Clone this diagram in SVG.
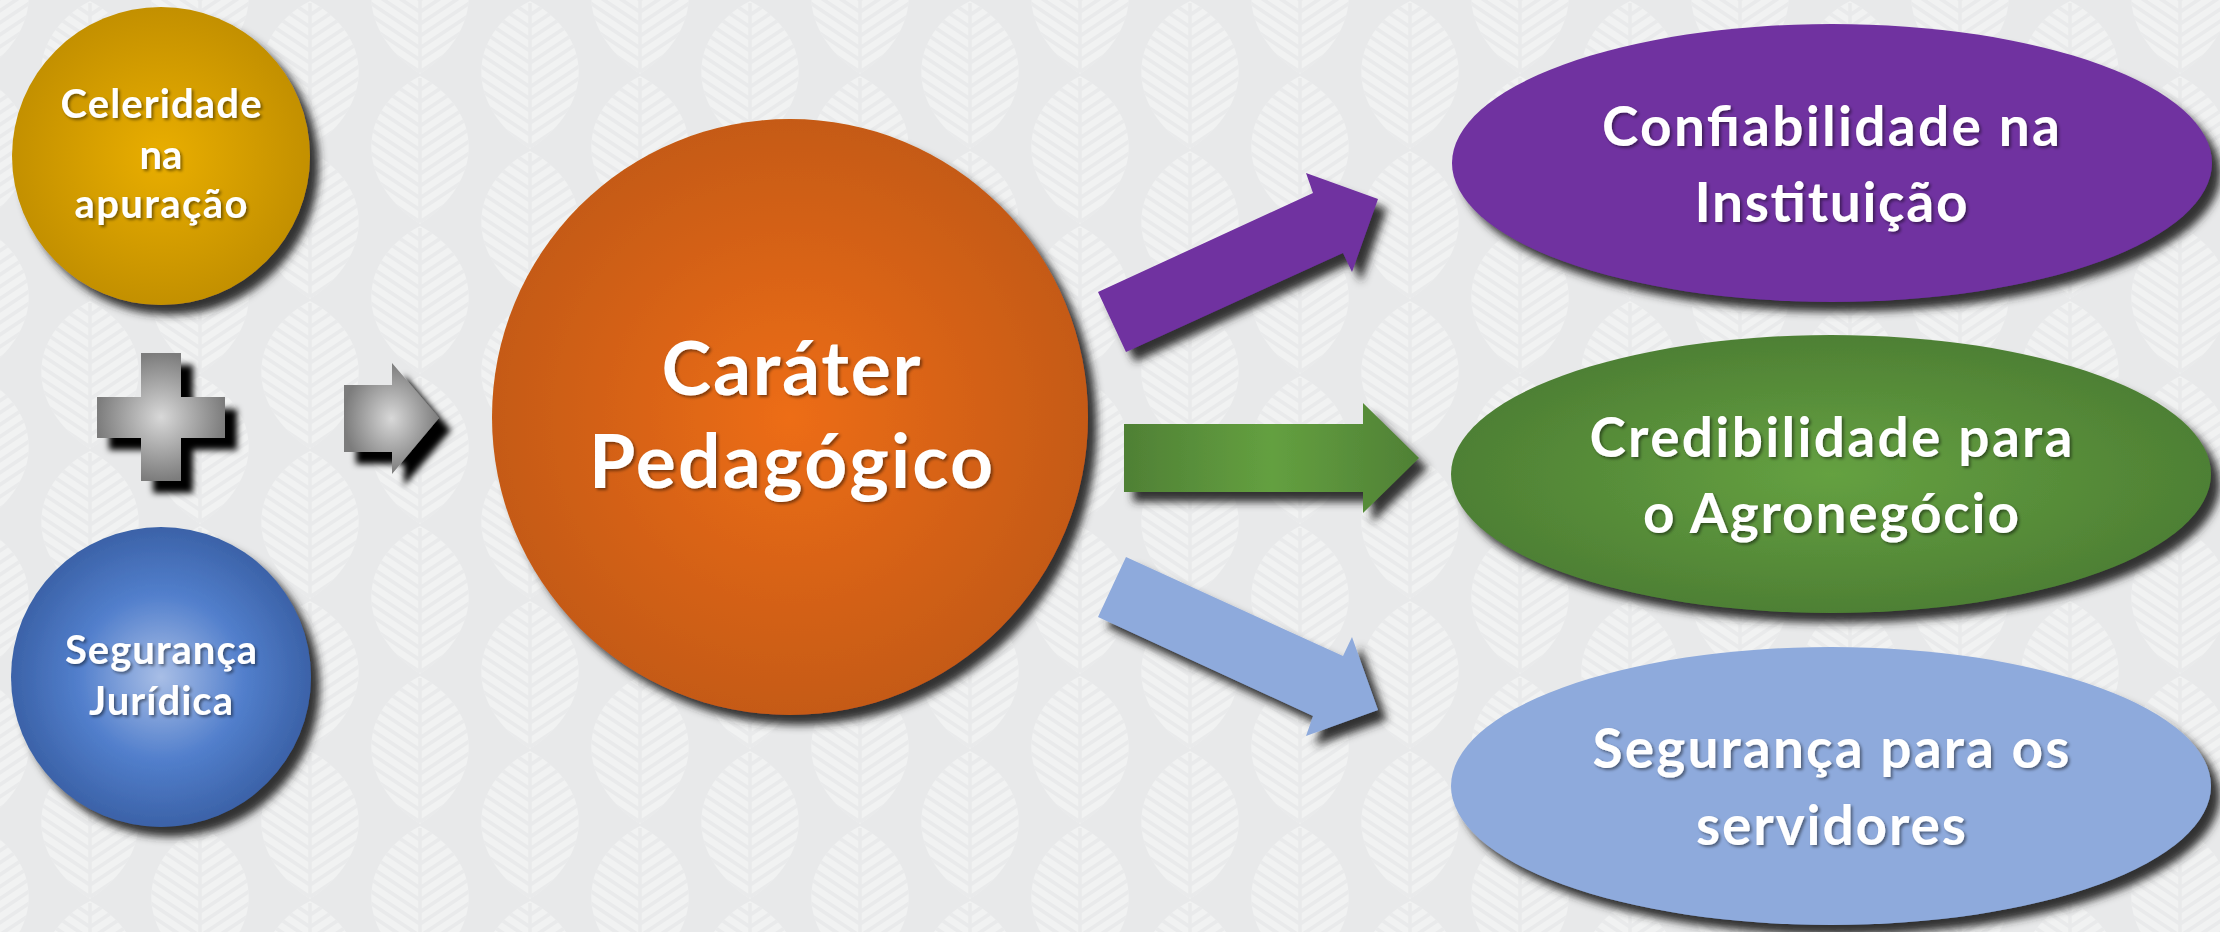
<svg xmlns="http://www.w3.org/2000/svg" width="2220" height="932" viewBox="0 0 2220 932">
<defs>
<style>
.t{font-family:Lato,"Open Sans","Liberation Sans",sans-serif;font-weight:700;fill:#ffffff;text-anchor:middle;filter:url(#ts)}
.s{font-size:40px}
.m{font-size:55px}
.b{font-size:75px}
.hb{fill:none;stroke:#e9eaeb;stroke-width:3.5}
</style>
<filter id="ts" x="-10%" y="-30%" width="120%" height="160%">
<feDropShadow dx="2" dy="2" stdDeviation="1.5" flood-color="#000" flood-opacity="0.45"/>
</filter>
<filter id="sh" x="-20%" y="-20%" width="150%" height="150%">
<feDropShadow dx="9" dy="10" stdDeviation="4" flood-color="#262626" flood-opacity="0.95"/>
</filter>
<filter id="shk" x="-30%" y="-30%" width="170%" height="170%">
<feDropShadow dx="12" dy="12" stdDeviation="3" flood-color="#000" flood-opacity="1"/>
</filter>
<radialGradient id="gY" cx="50%" cy="50%" r="50%">
<stop offset="0" stop-color="#e9ae00"/><stop offset="1" stop-color="#c39000"/>
</radialGradient>
<radialGradient id="gB" cx="50%" cy="50%" r="50%">
<stop offset="0" stop-color="#a8bee6"/><stop offset="0.55" stop-color="#527fcc"/><stop offset="1" stop-color="#3b62a8"/>
</radialGradient>
<radialGradient id="gO" cx="50%" cy="50%" r="50%">
<stop offset="0" stop-color="#ed6d15"/><stop offset="1" stop-color="#c55a12"/>
</radialGradient>
<radialGradient id="gG" cx="50%" cy="50%" r="50%">
<stop offset="0" stop-color="#d8d8d8"/><stop offset="1" stop-color="#7c7c7c"/>
</radialGradient>
<radialGradient id="gGE" cx="50%" cy="50%" r="50%">
<stop offset="0" stop-color="#65a141"/><stop offset="1" stop-color="#4e8034"/>
</radialGradient>
<linearGradient id="gGA" x1="0" y1="0" x2="1" y2="0">
<stop offset="0" stop-color="#4f8035"/><stop offset="0.5" stop-color="#64a040"/><stop offset="1" stop-color="#4f8035"/>
</linearGradient>
<clipPath id="leafClip"><path d="M0,-74 C64,-40 66,30 0,74 C-66,30 -64,-40 0,-74Z"/></clipPath>
<g id="leaf">
<path d="M0,-74 C64,-40 66,30 0,74 C-66,30 -64,-40 0,-74Z" fill="#f1f2f2"/>
<g clip-path="url(#leafClip)">
<path class="hb" d="M0,-72 V72 M0,-60 L60,-100 M0,-60 L-60,-100 M0,-48 L60,-88 M0,-48 L-60,-88 M0,-36 L60,-76 M0,-36 L-60,-76 M0,-24 L60,-64 M0,-24 L-60,-64 M0,-12 L60,-52 M0,-12 L-60,-52 M0,0 L60,-40 M0,0 L-60,-40 M0,12 L60,-28 M0,12 L-60,-28 M0,24 L60,-16 M0,24 L-60,-16 M0,36 L60,-4 M0,36 L-60,-4 M0,48 L60,8 M0,48 L-60,8 M0,60 L60,20 M0,60 L-60,20 M0,72 L60,32 M0,72 L-60,32"/>
</g>
</g>
<pattern id="bg" width="220" height="300" patternUnits="userSpaceOnUse" x="35" y="0">
<rect width="220" height="300" fill="#e8e9ea"/>
<use href="#leaf" x="55" y="75"/>
<use href="#leaf" x="55" y="225"/>
<use href="#leaf" x="165" y="0"/>
<use href="#leaf" x="165" y="150"/>
<use href="#leaf" x="165" y="300"/>
</pattern>
</defs>

<rect id="background" width="2220" height="932" fill="url(#bg)"/>

<g id="celeridade">
<circle cx="161" cy="156" r="149" fill="url(#gY)" filter="url(#sh)"/>
<text class="t s" x="161" y="118" textLength="201">Celeridade</text>
<text class="t s" x="161" y="169">na</text>
<text class="t s" x="161" y="218" textLength="173">apuração</text>
</g>

<g id="plus">
<path d="M141,353 H181 V397 H225 V438 H181 V481 H141 V438 H97 V397 H141 Z" fill="url(#gG)" filter="url(#shk)"/>
</g>

<g id="seguranca-juridica">
<circle cx="161" cy="677" r="150" fill="url(#gB)" filter="url(#sh)"/>
<text class="t s" x="161" y="664" textLength="192">Segurança</text>
<text class="t s" x="161" y="715" textLength="144">Jurídica</text>
</g>

<g id="carater-pedagogico">
<circle cx="790" cy="417" r="298" fill="url(#gO)" filter="url(#sh)"/>
<text class="t b" x="791" y="395" textLength="259">Caráter</text>
<text class="t b" x="791" y="488" textLength="404">Pedagógico</text>
</g>

<g id="confiabilidade">
<ellipse cx="1832" cy="163" rx="380" ry="139" fill="#7030a0" filter="url(#sh)"/>
<text class="t m" x="1831" y="146" textLength="458">Confiabilidade na</text>
<text class="t m" x="1831" y="222" textLength="273">Instituição</text>
</g>

<g id="credibilidade">
<ellipse cx="1831" cy="474" rx="380" ry="139" fill="url(#gGE)" filter="url(#sh)"/>
<text class="t m" x="1831" y="457" textLength="483">Credibilidade para</text>
<text class="t m" x="1831" y="533" textLength="376">o Agronegócio</text>
</g>

<g id="seguranca-servidores">
<ellipse cx="1831" cy="786" rx="380" ry="139" fill="#8eaadc" filter="url(#sh)"/>
<text class="t m" x="1831" y="768" textLength="477">Segurança para os</text>
<text class="t m" x="1831" y="845" textLength="270">servidores</text>
</g>

<g id="connectors">
<polygon points="344,385 392,385 392,363 439,418 392,474 392,452 344,452" fill="url(#gG)" filter="url(#shk)"/>
<polygon points="1098,292 1313,193 1306,173 1378,199 1352,272 1343,253 1126,352" fill="#7030a0" filter="url(#sh)"/>
<polygon points="1124,424 1363,424 1363,403 1419,458 1363,513 1363,492 1124,492" fill="url(#gGA)" filter="url(#sh)"/>
<polygon points="1098,617 1313,716 1306,736 1378,710 1352,637 1343,656 1126,557" fill="#8eaadc" filter="url(#sh)"/>
</g>
</svg>
